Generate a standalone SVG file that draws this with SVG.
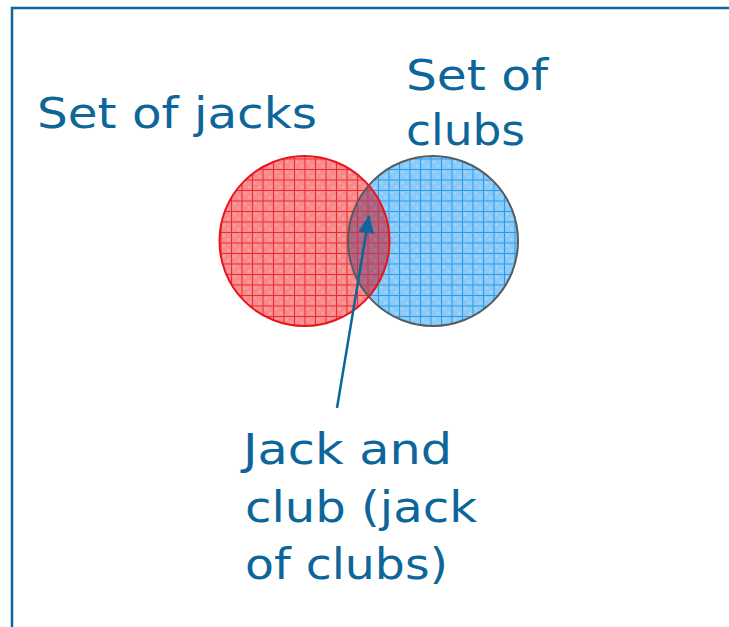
<svg xmlns="http://www.w3.org/2000/svg" width="729" height="627" viewBox="0 0 729 627">
<style>
.lbl{font-family:"DejaVu Sans","Verdana",sans-serif;font-size:42px;fill:#0d6699;}
</style>
<defs>
<pattern id="pr" patternUnits="userSpaceOnUse" width="10.5" height="10.5" x="0" y="1">
<rect width="10.5" height="10.5" fill="#f88a8b"/>
<rect x="2" y="2" width="2.5" height="2.5" fill="#fba3a3"/>
<rect x="6.5" y="6.5" width="2.5" height="2.5" fill="#fba3a3"/>
<path d="M0 0.5H10.5M0.5 0V10.5" stroke="#ec2b2e" stroke-width="1"/>
</pattern>
<pattern id="pb" patternUnits="userSpaceOnUse" width="10.5" height="10.5" x="0" y="1">
<rect width="10.5" height="10.5" fill="#8acaf9"/>
<rect x="2" y="2" width="2.5" height="2.5" fill="#a3d6fb"/>
<rect x="6.5" y="6.5" width="2.5" height="2.5" fill="#a3d6fb"/>
<path d="M0 0.5H10.5M0.5 0V10.5" stroke="#2a9be8" stroke-width="1"/>
</pattern>
<pattern id="pm" patternUnits="userSpaceOnUse" width="10.5" height="10.5" x="0" y="1">
<rect width="10.5" height="10.5" fill="#ab6582"/>
<rect x="2" y="2" width="2.5" height="2.5" fill="#b5718c"/>
<rect x="6.5" y="6.5" width="2.5" height="2.5" fill="#b5718c"/>
<path d="M0 0.5H10.5M0.5 0V10.5" stroke="#cc3650" stroke-width="1"/>
</pattern>
<marker id="ah" markerUnits="userSpaceOnUse" markerWidth="18" markerHeight="16" refX="17" refY="8" orient="auto">
<path d="M0 0L18 8L0 16Z" fill="#0d6699"/>
</marker>
</defs>
<path d="M12 627V8H729" fill="none" stroke="#0d6699" stroke-width="2.5"/>
<g id="jacks">
<circle cx="304.5" cy="241" r="85" fill="url(#pr)"/>
</g>
<g id="clubs">
<circle cx="433" cy="241" r="85" fill="url(#pb)"/>
</g>
<g id="overlap">
<path d="M368.75 185.35A85 85 0 0 1 368.75 296.65A85 85 0 0 1 368.75 185.35Z" fill="url(#pm)"/>
</g>
<circle cx="433" cy="241" r="85" fill="none" stroke="#565b5e" stroke-width="2"/>
<circle cx="304.5" cy="241" r="85" fill="none" stroke="#e8141c" stroke-width="2"/>
<g id="connectors">
<line x1="337" y1="408" x2="369" y2="216" stroke="#0d6699" stroke-width="2.5" marker-end="url(#ah)"/>
</g>
<g id="labels">
<text class="lbl" x="37" y="128" textLength="280" lengthAdjust="spacingAndGlyphs">Set of jacks</text>
<text class="lbl" x="406" y="90" textLength="142" lengthAdjust="spacingAndGlyphs">Set of</text>
<text class="lbl" x="406" y="145" textLength="119" lengthAdjust="spacingAndGlyphs">clubs</text>
<text class="lbl" x="243" y="464" textLength="209" lengthAdjust="spacingAndGlyphs">Jack and</text>
<text class="lbl" x="245" y="522" textLength="232" lengthAdjust="spacingAndGlyphs">club (jack</text>
<text class="lbl" x="245" y="579" textLength="203" lengthAdjust="spacingAndGlyphs">of clubs)</text>
</g>
</svg>
